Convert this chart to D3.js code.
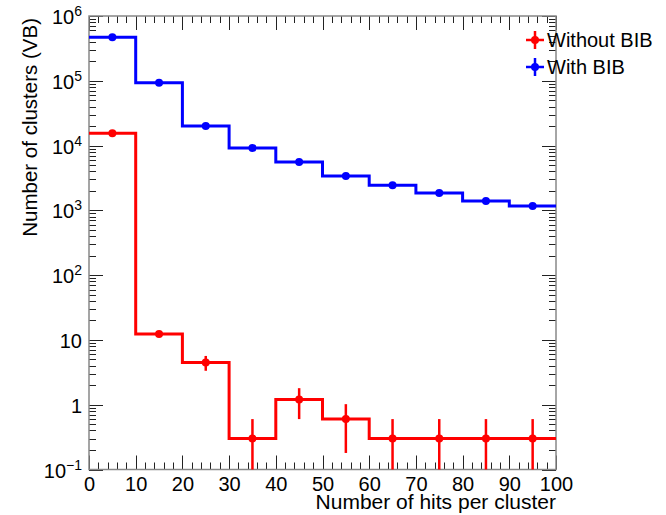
<!DOCTYPE html>
<html>
<head>
<meta charset="utf-8">
<script src="https://cdn.jsdelivr.net/npm/d3@7"></script>
<style>
  body { margin: 0; background: #fff; }
  text { font-family: "Liberation Sans", Arial, Helvetica, sans-serif; }
</style>
</head>
<body>
<div id="chart"></div>
<script>

// bin edges (lower edge of each bin), width 10
var binLow = [0, 10, 20, 30, 40, 50, 60, 70, 80, 90];
var binWidth = 10;

// With BIB
var withBIB = [470000, 93000, 20000, 9200, 5600, 3400, 2450, 1850, 1400, 1170];
// Without BIB
var withoutBIB = [15500, 12.4, 4.5, 0.3, 1.2, 0.6, 0.3, 0.3, 0.3, 0.3];
var withoutBIBErr = [37, 1.05, 1.16, 0.3, 0.6, 0.42, 0.3, 0.3, 0.3, 0.3];

var xTicks = [0, 10, 20, 30, 40, 50, 60, 70, 80, 90, 100];
var yDecades = [0.1, 1, 10, 100, 1000, 10000, 100000, 1000000];
var yLabels = [["10", "\u22121"], ["1", null], ["10", null], ["10", "2"], ["10", "3"], ["10", "4"], ["10", "5"], ["10", "6"]];

var legendNames = ["Without BIB", "With BIB"];
var legendColors = ["#ff0000", "#0000ff"];

var W = 666, H = 515;
var pLeft = 89, pRight = 556, pTop = 16, pBottom = 469.5;

var svg = d3.select("#chart").append("svg")
  .attr("width", W).attr("height", H);

var x = d3.scaleLinear().domain([0, 100]).range([pLeft, pRight]);
var y = d3.scaleLog().domain([0.1, 1e6]).range([pBottom, pTop]);

// minor ticks
var xMinor = d3.range(0, 101, 2).filter(function(d) { return d % 10 != 0; });
var yMinor = [];
for (var e = -1; e < 6; e++) {
  for (var m = 2; m <= 9; m++) yMinor.push(m * Math.pow(10, e));
}

var frame = svg.append("g");

function tickLines(vals, len, horiz) {
  var g = frame.append("g").attr("stroke", "#222").attr("stroke-width", 1);
  vals.forEach(function(v) {
    if (horiz) {
      var px = Math.round(x(v)) + 0.5;
      g.append("line").attr("x1", px).attr("x2", px).attr("y1", pBottom).attr("y2", pBottom - len);
      g.append("line").attr("x1", px).attr("x2", px).attr("y1", pTop).attr("y2", pTop + len);
    } else {
      var py = Math.round(y(v)) + 0.5;
      g.append("line").attr("y1", py).attr("y2", py).attr("x1", pLeft).attr("x2", pLeft + len);
      g.append("line").attr("y1", py).attr("y2", py).attr("x1", pRight).attr("x2", pRight - len);
    }
  });
}
tickLines(xTicks, 14, true);
tickLines(xMinor, 7, true);
tickLines(yDecades, 14, false);
tickLines(yMinor, 7, false);

frame.append("rect")
  .attr("x", pLeft).attr("y", pTop)
  .attr("width", pRight - pLeft).attr("height", pBottom - pTop)
  .attr("fill", "none").attr("stroke", "#888").attr("stroke-width", 1.5);

// x tick labels via axis
var xAxis = d3.axisBottom(x).tickValues(xTicks).tickSize(0).tickPadding(0);
var gx = svg.append("g").attr("transform", "translate(0," + pBottom + ")").call(xAxis);
gx.select(".domain").remove();
gx.selectAll("text")
  .attr("y", 21).attr("dy", 0)
  .style("font-size", "20px")
  .style("font-family", "'Liberation Sans', Arial, sans-serif")
  .attr("fill", "#000");

// y tick labels
var gy = svg.append("g");
yDecades.forEach(function(v, i) {
  var t = gy.append("text")
    .attr("x", 82).attr("y", y(v) + 8)
    .attr("text-anchor", "end")
    .style("font-size", "20px");
  t.append("tspan").text(yLabels[i][0]);
  if (yLabels[i][1]) {
    t.append("tspan").attr("dy", -8).style("font-size", "14px").text(yLabels[i][1]);
  }
});

// axis titles
svg.append("text")
  .attr("x", pRight).attr("y", 509)
  .attr("text-anchor", "end")
  .style("font-size", "21px")
  .text("Number of hits per cluster");

svg.append("text")
  .attr("transform", "translate(37,18) rotate(-90)")
  .attr("text-anchor", "end")
  .style("font-size", "20.5px")
  .text("Number of clusters (VB)");

// histogram step outline
function stepPath(vals) {
  var p = "";
  vals.forEach(function(v, i) {
    var x0 = x(binLow[i]), x1 = x(binLow[i] + binWidth), yy = y(v);
    p += (i == 0 ? "M" : "L") + x0 + "," + yy + "L" + x1 + "," + yy;
  });
  return p;
}

var plot = svg.append("g");

function drawHist(vals, errs, color) {
  plot.append("path")
    .attr("d", stepPath(vals))
    .attr("fill", "none")
    .attr("stroke", color)
    .attr("stroke-width", 3);

  if (errs) {
    plot.selectAll(null)
      .data(vals)
      .enter()
      .append("line")
        .attr("x1", function(d, i) { return x(binLow[i] + binWidth / 2); })
        .attr("x2", function(d, i) { return x(binLow[i] + binWidth / 2); })
        .attr("y1", function(d, i) { var lo = d - errs[i]; return lo > 0.1 ? y(lo) : pBottom; })
        .attr("y2", function(d, i) { return y(d + errs[i]); })
        .attr("stroke", color)
        .attr("stroke-width", 2.5);
  }

  plot.selectAll(null)
    .data(vals)
    .enter()
    .append("circle")
      .attr("cx", function(d, i) { return x(binLow[i] + binWidth / 2); })
      .attr("cy", function(d) { return y(d); })
      .attr("r", 4)
      .attr("fill", color);
}

drawHist(withoutBIB, withoutBIBErr, "#ff0000");
drawHist(withBIB, null, "#0000ff");

// legend
var leg = svg.append("g");
legendNames.forEach(function(name, i) {
  var cy = 40 + i * 27, cx = 535;
  leg.append("line").attr("x1", cx - 9).attr("x2", cx + 9).attr("y1", cy).attr("y2", cy)
    .attr("stroke", legendColors[i]).attr("stroke-width", 2.5);
  leg.append("line").attr("x1", cx).attr("x2", cx).attr("y1", cy - 9).attr("y2", cy + 9)
    .attr("stroke", legendColors[i]).attr("stroke-width", 2.5);
  leg.append("circle").attr("cx", cx).attr("cy", cy).attr("r", 4).attr("fill", legendColors[i]);
  leg.append("text")
    .attr("x", 547).attr("y", cy + 7)
    .style("font-size", "20px")
    .text(name);
});

</script>
</body>
</html>
